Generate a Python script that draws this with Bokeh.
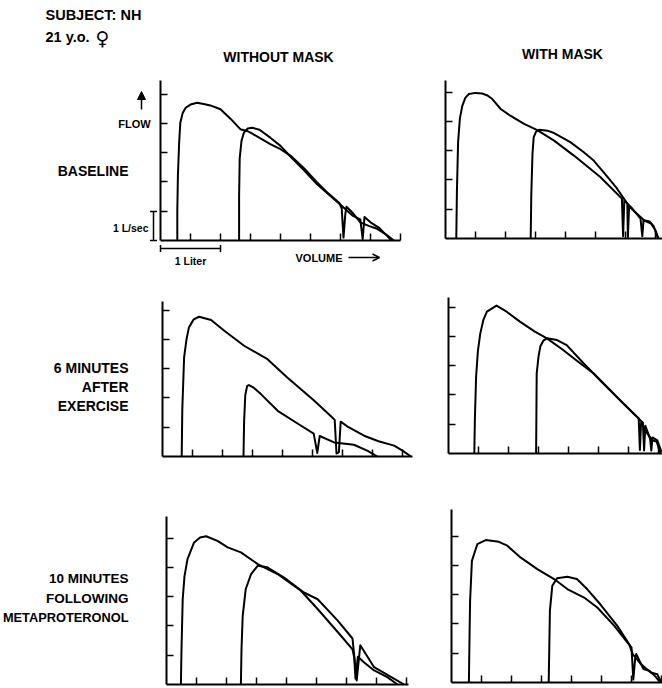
from bokeh.plotting import figure
from bokeh.models import Range1d, FixedTicker, Label, Arrow, TeeHead, OpenHead, NormalHead
from bokeh.layouts import column, row
from bokeh.embed import file_html
from bokeh.resources import INLINE

# ---------------- data (volume in litres, flow in L/sec) ----------------
XTICKS = [0.5, 1.0, 1.5, 2.0, 2.5, 3.0, 3.5, 4.0]
YTICKS = [1, 2, 3, 4, 5]

ROW_LABELS = [["BASELINE"], ["6 MINUTES", "AFTER", "EXERCISE"],
              ["10 MINUTES", "FOLLOWING", "METAPROTERONOL"]]
COL_LABELS = ["WITHOUT MASK", "WITH MASK"]

# Baseline, without mask
base_nomask_v1 = [0.28, 0.28, 0.29, 0.31, 0.33, 0.37, 0.42, 0.50, 0.61, 0.72, 0.83, 1.00, 1.17, 1.33, 1.44,
                  1.50, 1.83, 2.00, 2.17, 2.40, 2.61, 2.80, 2.98, 3.02, 3.05, 3.08, 3.10, 3.20, 3.33, 3.47,
                  3.61, 3.75, 3.89]
base_nomask_f1 = [0.00, 1.00, 2.20, 3.30, 4.02, 4.35, 4.53, 4.64, 4.70, 4.66, 4.61, 4.48, 4.15, 3.80, 3.74,
                  3.68, 3.29, 3.12, 2.89, 2.45, 1.98, 1.60, 1.28, 1.10, 0.10, 0.90, 1.15, 0.95, 0.62, 0.50,
                  0.40, 0.22, 0.00]
base_nomask_v2 = [1.31, 1.31, 1.32, 1.35, 1.39, 1.45, 1.53, 1.65, 1.83, 2.00, 2.17, 2.40, 2.61, 2.80, 3.00,
                  3.20, 3.33, 3.37, 3.40, 3.50, 3.65, 3.78, 3.85]
base_nomask_f2 = [0.00, 1.50, 2.80, 3.40, 3.68, 3.82, 3.85, 3.78, 3.51, 3.23, 2.86, 2.38, 1.92, 1.58, 1.22,
                  0.85, 0.72, 0.05, 0.80, 0.62, 0.42, 0.15, 0.00]

# Baseline, with mask
base_mask_v1 = [0.18, 0.19, 0.21, 0.24, 0.28, 0.33, 0.39, 0.50, 0.61, 0.70, 0.78, 0.92, 1.08, 1.31, 1.53,
                1.81, 2.14, 2.58, 2.94, 2.96, 2.98, 3.10, 3.25, 3.28, 3.30, 3.42, 3.50, 3.55]
base_mask_f1 = [0.00, 1.60, 3.29, 4.10, 4.53, 4.80, 4.93, 4.97, 4.95, 4.88, 4.76, 4.42, 4.19, 3.91, 3.70,
                3.34, 2.83, 2.10, 1.36, 0.08, 1.30, 1.05, 0.68, 0.08, 0.62, 0.52, 0.28, 0.00]
base_mask_v2 = [1.42, 1.43, 1.45, 1.47, 1.51, 1.56, 1.70, 1.81, 2.08, 2.30, 2.47, 2.70, 2.86, 3.03, 3.04,
                3.06, 3.15, 3.31, 3.40, 3.47, 3.53]
base_mask_f2 = [0.00, 1.50, 2.90, 3.46, 3.65, 3.71, 3.68, 3.60, 3.29, 2.95, 2.66, 2.10, 1.70, 1.19, 0.05,
                1.10, 0.92, 0.62, 0.58, 0.42, 0.05]

# 6 minutes after exercise, without mask
exer_nomask_v1 = [0.32, 0.33, 0.36, 0.40, 0.44, 0.52, 0.61, 0.81, 1.03, 1.36, 1.75, 2.08, 2.53, 2.83, 2.87,
                  2.90, 2.94, 2.97, 3.10, 3.36, 3.60, 3.86, 4.00, 4.14]
exer_nomask_f1 = [0.00, 1.60, 3.38, 4.00, 4.40, 4.68, 4.77, 4.66, 4.29, 3.78, 3.32, 2.70, 1.90, 1.33, 1.25,
                  0.10, 0.15, 1.19, 1.00, 0.71, 0.52, 0.37, 0.20, 0.00]
exer_nomask_v2 = [1.35, 1.36, 1.38, 1.41, 1.44, 1.52, 1.64, 1.92, 2.31, 2.52, 2.58, 2.62, 2.86, 3.19, 3.42,
                  3.58]
exer_nomask_f2 = [0.00, 1.20, 2.10, 2.40, 2.44, 2.35, 2.13, 1.56, 1.05, 0.78, 0.12, 0.70, 0.48, 0.40, 0.19,
                  0.00]

# 6 minutes after exercise, with mask
exer_mask_v1 = [0.43, 0.44, 0.46, 0.49, 0.53, 0.58, 0.64, 0.80, 0.97, 1.19, 1.44, 1.64, 1.90, 2.15, 2.42,
                2.86, 3.12, 3.17, 3.19, 3.21, 3.30, 3.40, 3.47, 3.53]
exer_mask_f1 = [0.00, 1.20, 2.62, 3.50, 4.10, 4.55, 4.84, 5.05, 4.84, 4.50, 4.16, 3.93, 3.55, 3.15, 2.73,
                1.82, 1.30, 1.20, 0.12, 1.05, 0.72, 0.45, 0.40, 0.00]
exer_mask_v2 = [1.46, 1.465, 1.47, 1.50, 1.53, 1.58, 1.64, 1.81, 1.97, 2.25, 2.58, 2.97, 3.14, 3.24, 3.26,
                3.28, 3.36, 3.38, 3.40, 3.48, 3.55]
exer_mask_f2 = [0.00, 1.30, 2.73, 3.30, 3.65, 3.85, 3.93, 3.87, 3.70, 3.08, 2.39, 1.59, 1.25, 1.05, 0.10,
                0.95, 0.50, 0.10, 0.55, 0.45, 0.05]

# 10 minutes following metaproterenol, without mask
meta_nomask_v1 = [0.24, 0.25, 0.27, 0.30, 0.35, 0.46, 0.56, 0.66, 0.85, 1.02, 1.24, 1.52, 1.85, 2.24, 2.50,
                  2.70, 2.90, 3.10, 3.13, 3.15, 3.19, 3.29, 3.46, 3.68, 3.85]
meta_nomask_f1 = [0.00, 1.20, 2.91, 3.70, 4.28, 4.85, 5.02, 5.06, 4.90, 4.68, 4.51, 4.11, 3.77, 3.20, 2.62,
                  2.15, 1.68, 1.20, 0.90, 0.20, 0.95, 0.76, 0.48, 0.25, 0.00]
meta_nomask_v2 = [1.24, 1.25, 1.27, 1.32, 1.41, 1.52, 1.68, 1.96, 2.29, 2.52, 2.85, 3.10, 3.17, 3.23, 3.46,
                  3.79, 3.96]
meta_nomask_f2 = [0.00, 1.20, 2.34, 3.25, 3.77, 4.05, 4.00, 3.65, 3.14, 2.91, 2.19, 1.57, 0.14, 1.34, 0.59,
                  0.20, 0.00]

# 10 minutes following metaproterenol, with mask
meta_mask_v1 = [0.29, 0.30, 0.31, 0.34, 0.43, 0.57, 0.79, 0.93, 1.15, 1.43, 1.71, 1.93, 2.21, 2.43, 2.71,
                2.93, 3.00, 3.03, 3.06, 3.08, 3.20, 3.30, 3.40, 3.48]
meta_mask_f1 = [0.00, 1.50, 2.79, 4.15, 4.72, 4.86, 4.80, 4.67, 4.27, 3.87, 3.53, 3.19, 2.90, 2.56, 1.94,
                1.37, 1.20, 0.10, 0.80, 0.97, 0.46, 0.40, 0.20, 0.00]
meta_mask_v2 = [1.62, 1.63, 1.64, 1.68, 1.76, 1.93, 2.09, 2.26, 2.48, 2.76, 2.96, 3.02, 3.16, 3.32, 3.43,
                3.46, 3.51]
meta_mask_f2 = [0.00, 1.20, 2.45, 3.30, 3.56, 3.61, 3.53, 3.19, 2.67, 1.94, 1.31, 0.97, 0.62, 0.34, 0.28,
                0.15, 0.00]

# ---------------- layout / style ----------------
PXL = 60.0   # screen px per litre
PXF = 29.3   # screen px per L/sec
FONT = "Liberation Sans"
LW = 2.0


def make_panel(w, h, ox, ob, xlen, ylen, v1, f1, v2, f2):
    """w,h: cell size; ox: px from cell left to the flow axis; ob: px from cell bottom to the
    volume axis; xlen/ylen: drawn axis lengths in px."""
    p = figure(width=w, height=h,
               x_range=Range1d(-ox / PXL, (w - ox) / PXL),
               y_range=Range1d(-ob / PXF, (h - ob) / PXF),
               min_border=0, min_border_left=0, min_border_right=0,
               min_border_top=0, min_border_bottom=0,
               output_backend="svg", toolbar_location=None)
    p.outline_line_color = None
    p.grid.visible = False
    p.background_fill_color = "white"
    p.border_fill_color = "white"
    for ax, ticks, ln in ((p.xaxis, XTICKS, xlen / PXL), (p.yaxis, YTICKS, ylen / PXF)):
        ax.ticker = FixedTicker(ticks=[], minor_ticks=ticks)
        ax.fixed_location = 0
        ax.bounds = (0, ln)
        ax.major_tick_in = 0
        ax.major_tick_out = 0
        ax.minor_tick_in = 7
        ax.minor_tick_out = 0
        ax.major_label_standoff = 0
        ax.axis_line_width = LW
        ax.axis_line_color = "black"
        ax.minor_tick_line_width = 1.5
        ax.minor_tick_line_color = "black"
    p.line(v1, f1, line_width=LW, line_color="black", line_join="round")
    p.line(v2, f2, line_width=LW, line_color="black", line_join="round")
    return p


def put(p, o, px, py, text, size="13.5px", align="right", font=FONT):
    ox, oy = o
    p.add_layout(Label(x=(px - ox) / PXL, y=(oy - py) / PXF, text=text, text_font=font,
                       text_font_size=size, text_font_style="bold", text_color="black",
                       text_align=align, text_baseline="middle"))


def seg(p, o, x0, y0, x1, y1, start=None, end=None):
    ox, oy = o
    p.add_layout(Arrow(x_start=(x0 - ox) / PXL, y_start=(oy - y0) / PXF,
                       x_end=(x1 - ox) / PXL, y_end=(oy - y1) / PXF,
                       start=start, end=end, line_width=1.5, line_color="black"))


# page position of each panel's origin (for placing annotations)
O11, O12 = (160, 240), (445, 238)
O21, O22 = (162, 456), (448, 453)
O31, O32 = (166, 684), (451, 682)

p11 = make_panel(420, 290, 160, 50, 240, 160, base_nomask_v1, base_nomask_f1, base_nomask_v2, base_nomask_f2)
p12 = make_panel(242, 290, 25, 52, 217, 158, base_mask_v1, base_mask_f1, base_mask_v2, base_mask_f2)
p21 = make_panel(420, 210, 162, 44, 250, 155, exer_nomask_v1, exer_nomask_f1, exer_nomask_v2, exer_nomask_f2)
p22 = make_panel(242, 210, 28, 47, 214, 156, exer_mask_v1, exer_mask_f1, exer_mask_v2, exer_mask_f2)
p31 = make_panel(420, 188, 166, 4, 242, 168, meta_nomask_v1, meta_nomask_f1, meta_nomask_v2, meta_nomask_f2)
p32 = make_panel(242, 188, 31, 6, 211, 173, meta_mask_v1, meta_mask_f1, meta_mask_v2, meta_mask_f2)

# header texts
put(p11, O11, 45, 14, "SUBJECT: NH", size="14.5px", align="left")
put(p11, O11, 45, 36, "21 y.o.", size="14.5px", align="left")
put(p11, O11, 95, 37, "\u2640", size="19px", align="left", font="DejaVu Sans")
put(p11, O11, 278, 56, COL_LABELS[0], size="14px", align="center")
put(p12, (25, 238), 142, 53, COL_LABELS[1], size="14px", align="center")

# row labels (page coordinates relative to each row's cell)
put(p11, O11, 128, 170, ROW_LABELS[0][0], size="14px")
for i, t in enumerate(ROW_LABELS[1]):
    put(p21, (162, 166), 128, 77 + 19 * i, t, size="14px")
row3_sizes = ["13.5px", "13.5px", "12.8px"]
for i, t in enumerate(ROW_LABELS[2]):
    put(p31, (166, 184), 128, 78 + 19.5 * i, t, size=row3_sizes[i])

# scale annotations on the first panel
put(p11, O11, 134, 123, "FLOW", size="11px", align="center")
seg(p11, O11, 141, 109, 141, 91, end=NormalHead(size=8, fill_color="black", line_color="black"))
put(p11, O11, 148, 227, "1 L/sec", size="10.5px", align="right")
seg(p11, O11, 153, 211, 153, 240, start=TeeHead(size=7, line_width=1.5), end=TeeHead(size=7, line_width=1.5))
seg(p11, O11, 160, 248, 220, 248, start=TeeHead(size=7, line_width=1.5), end=TeeHead(size=7, line_width=1.5))
put(p11, O11, 190, 260, "1 Liter", size="10.5px", align="center")
put(p11, O11, 295, 257, "VOLUME", size="11px", align="left")
seg(p11, O11, 348, 257, 379, 257, end=OpenHead(size=7, line_width=1.5, line_color="black"))

layout = column(row(p11, p12), row(p21, p22), row(p31, p32))
open("out.html", "w").write(file_html(layout, INLINE))
